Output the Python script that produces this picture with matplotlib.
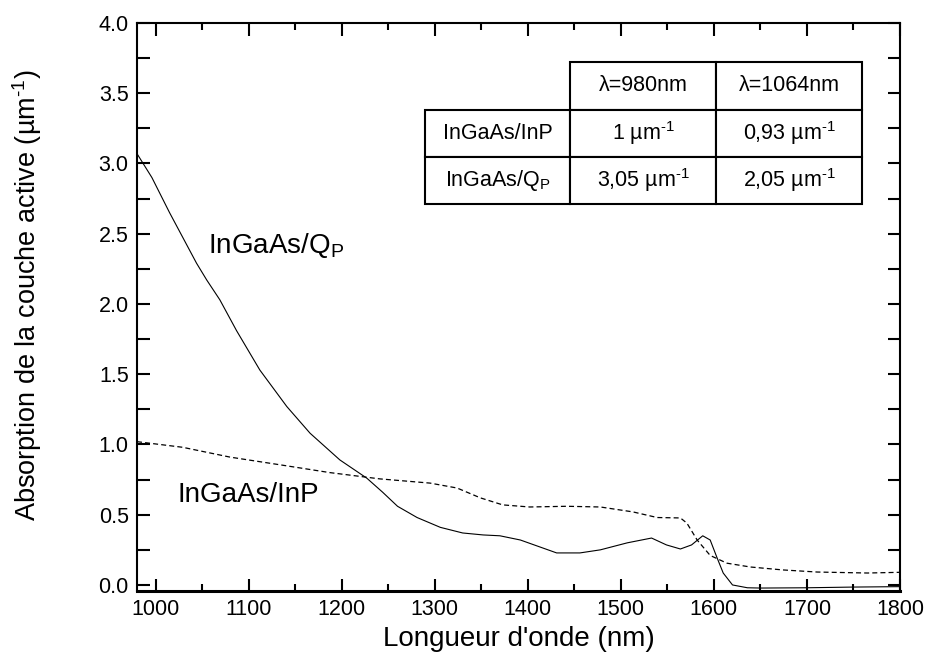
import numpy as np
import matplotlib
matplotlib.use("Agg")
import matplotlib.pyplot as plt
from matplotlib.ticker import MultipleLocator, FormatStrFormatter

plt.rcParams['font.family'] = ['Liberation Sans', 'DejaVu Sans']
plt.rcParams['mathtext.fontset'] = 'custom'
plt.rcParams['mathtext.rm'] = 'Liberation Sans'
plt.rcParams['mathtext.it'] = 'Liberation Sans:italic'

# InGaAs/Q_P (solid line)
qp_wl = [980, 996, 1015, 1044, 1055, 1069, 1087, 1112, 1141, 1166, 1198, 1227,
         1244, 1260, 1281, 1306, 1330, 1352, 1370, 1392, 1431, 1456, 1478, 1507,
         1533, 1549, 1564, 1576, 1588, 1596, 1603, 1610, 1620, 1636, 1650, 1700,
         1750, 1800]
qp_abs = [3.07, 2.90, 2.65, 2.29, 2.17, 2.03, 1.81, 1.53, 1.27, 1.08, 0.89, 0.76,
          0.66, 0.56, 0.48, 0.41, 0.37, 0.356, 0.35, 0.32, 0.228, 0.228, 0.25, 0.30,
          0.334, 0.285, 0.256, 0.285, 0.35, 0.32, 0.20, 0.085, 0.0, -0.02, -0.022, -0.02,
          -0.015, -0.012]

# InGaAs/InP (dashed line)
inp_wl = [980, 1029, 1080, 1134, 1187, 1241, 1295, 1324, 1349, 1373, 1402, 1442,
          1478, 1513, 1539, 1564, 1571, 1582, 1596, 1614, 1639, 1674, 1711, 1765,
          1800]
inp_abs = [1.02, 0.98, 0.91, 0.855, 0.80, 0.755, 0.725, 0.69, 0.62, 0.57, 0.555, 0.56,
           0.555, 0.52, 0.48, 0.477, 0.44, 0.32, 0.21, 0.155, 0.128, 0.107, 0.092, 0.085,
           0.09]

# table content
inv_um = "\u00b5m$^\\mathregular{\u20101}$"
table_rows = ["InGaAs/InP", "InGaAs/Q$_\\mathregular{P}$"]
table_cols = ["\u03bb=980nm", "\u03bb=1064nm"]
table_vals = [["1 " + inv_um, "0,93 " + inv_um],
              ["3,05 " + inv_um, "2,05 " + inv_um]]

fig = plt.figure(figsize=(9.26, 6.6), dpi=100)
ax = fig.add_axes([137 / 926, 69 / 660, 763 / 926, 568 / 660])

ax.plot(qp_wl, qp_abs, color='black', lw=0.8)
ax.plot(inp_wl, inp_abs, color='black', lw=0.9, dashes=(4, 2.5))

ax.set_xlim(980, 1800)
ax.set_ylim(-0.043, 4.0)
ax.xaxis.set_major_locator(MultipleLocator(100))
ax.xaxis.set_minor_locator(MultipleLocator(50))
ax.yaxis.set_major_locator(MultipleLocator(0.5))
ax.yaxis.set_minor_locator(MultipleLocator(0.25))
ax.yaxis.set_major_formatter(FormatStrFormatter('%.1f'))

ax.tick_params(axis='both', which='both', direction='in', labelsize=15.5, width=1.5)
ax.tick_params(axis='x', which='major', length=9, pad=6, top=True)
ax.tick_params(axis='x', which='minor', length=5, top=True)
ax.tick_params(axis='y', which='major', length=9, pad=6, right=True)
ax.tick_params(axis='y', which='minor', length=9, right=True)

for side in ['left', 'top', 'right']:
    ax.spines[side].set_linewidth(1.5)
ax.spines['bottom'].set_linewidth(2.2)

ax.set_xlabel("Longueur d'onde (nm)", fontsize=20, labelpad=4)
ax.set_ylabel("Absorption de la couche active (" + inv_um + ")", fontsize=19.5)
ax.yaxis.set_label_coords(-0.122, 0.52)

ax.text(1056, 2.36, "InGaAs/Q$_\\mathregular{P}$", fontsize=20, va='baseline')
ax.text(1024, 0.59, "InGaAs/InP", fontsize=20, va='baseline')

cell_text = [[""] + table_cols] + [[table_rows[i]] + table_vals[i] for i in range(2)]
tbl = ax.table(cellText=cell_text, cellLoc='center',
               bbox=[0.377, 0.681, 0.573, 0.250])
tbl.auto_set_font_size(False)
tbl.set_fontsize(15.5)
for (r, c), cell in tbl.get_celld().items():
    cell.set_linewidth(1.5)
    if r == 0 and c == 0:
        cell.visible_edges = ''

fig.savefig("out.png", dpi=100)
